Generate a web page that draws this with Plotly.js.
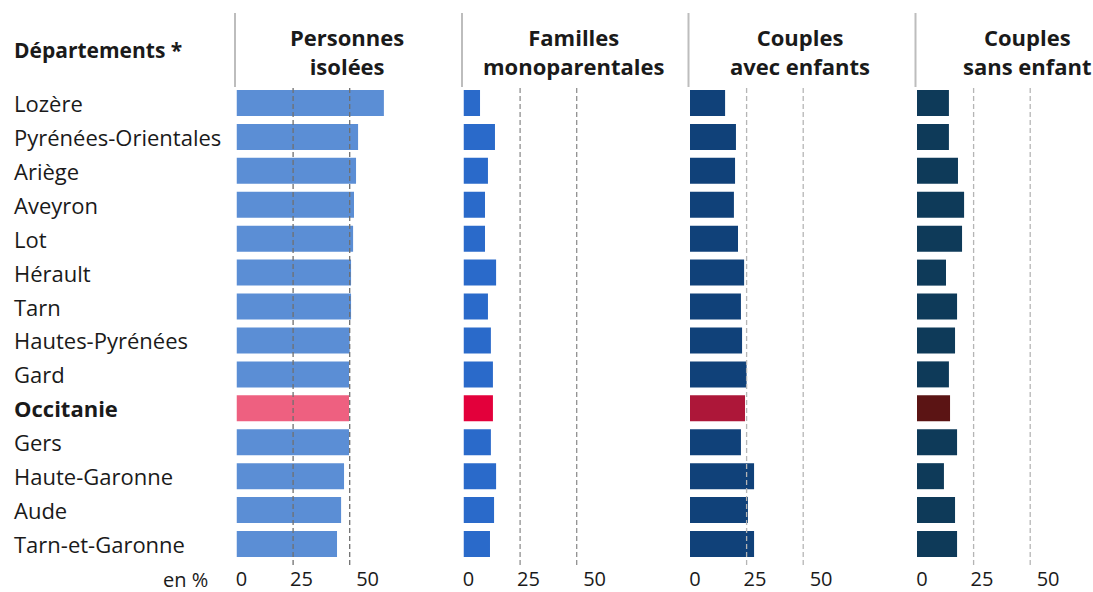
<!DOCTYPE html>
<html>
<head>
<meta charset="utf-8">
<script src="https://cdn.plot.ly/plotly-3.0.1.min.js"></script>
<style>
  body { margin: 0; background: #fff; }
  #chart { width: 1093px; height: 592px; }
</style>
</head>
<body>
<div id="chart"></div>
<script>
// départements, in the order of the chart (top to bottom)
const departements = ['Lozère', 'Pyrénées-Orientales', 'Ariège', 'Aveyron', 'Lot', 'Hérault', 'Tarn',
  'Hautes-Pyrénées', 'Gard', 'Occitanie', 'Gers', 'Haute-Garonne', 'Aude', 'Tarn-et-Garonne'];

const personnesIsolees = [65.1, 53.7, 52.8, 51.9, 51.5, 50.6, 50.6, 50.0, 49.7, 49.7, 49.7, 47.5, 46.2, 44.4];
const famillesMono = [7.3, 13.9, 10.8, 9.5, 9.5, 14.4, 10.8, 12.1, 13.0, 13.0, 12.1, 14.4, 13.5, 11.7];
const couplesAvecEnfants = [15.5, 20.3, 19.9, 19.4, 21.2, 23.9, 22.5, 23.0, 25.0, 24.3, 22.5, 28.3, 25.6, 28.3];
const couplesSansEnfant = [14.1, 14.1, 18.1, 20.8, 19.9, 12.8, 17.7, 16.8, 14.1, 14.6, 17.7, 11.9, 16.8, 17.7];

const panelTitles = ['Personnes<br>isolées', 'Familles<br>monoparentales', 'Couples<br>avec enfants', 'Couples<br>sans enfant'];
const tickText = ['0', '25', '50'];
const tickPos = [2.2, 28.7, 57.9];   // labels sit a little off the grid in the original
const gridVals = [25, 50];

const series = [personnesIsolees, famillesMono, couplesAvecEnfants, couplesSansEnfant];
const colors = ['#5b8ed5', '#2a6aca', '#104179', '#0e3a59'];
const hiColors = ['#ee6080', '#e3003b', '#ad1739', '#5b1414'];
const gridColors = ['#6f6f6f', '#8f8f8f', '#b5b5b5', '#b5b5b5'];

const W = 1093, H = 592;
const zeroPx = [236.5, 463.5, 690, 917];
const pxPerUnit = 2.264;
const xMax = 75;
const plotTop = 86, plotBottom = 561;

const font = 'Open Sans, Noto Sans, sans-serif';
const txt = '#1a1a1a';
const py = px => 1 - px / H;   // pixel row -> paper y

const traces = [];
const layout = {
  width: W, height: H,
  margin: { l: 0, r: 0, t: 0, b: 0 },
  paper_bgcolor: '#fff', plot_bgcolor: '#fff',
  showlegend: false,
  bargap: 0.233,
  font: { family: font, size: 20, color: txt },
  annotations: [],
  shapes: []
};

series.forEach((vals, i) => {
  const n = i + 1;
  const xa = n === 1 ? 'x' : 'x' + n;
  const ya = n === 1 ? 'y' : 'y' + n;
  traces.push({
    type: 'bar', orientation: 'h',
    x: vals, y: departements,
    xaxis: xa, yaxis: ya,
    marker: { color: departements.map(d => d === 'Occitanie' ? hiColors[i] : colors[i]) },
    hoverinfo: 'skip'
  });
  const d0 = zeroPx[i] / W;
  layout['xaxis' + (n === 1 ? '' : n)] = {
    domain: [d0, d0 + xMax * pxPerUnit / W],
    range: [0, xMax],
    anchor: ya,
    showgrid: false, zeroline: false, showline: false, ticks: '',
    tickmode: 'array', tickvals: tickPos, ticktext: tickText,
    tickfont: { size: 20, color: txt },
    ticklabelstandoff: 4,
    fixedrange: true
  };
  layout['yaxis' + (n === 1 ? '' : n)] = {
    anchor: xa,
    domain: [py(plotBottom), py(plotTop)],
    type: 'category',
    autorange: 'reversed',
    showticklabels: false, showgrid: false, zeroline: false, showline: false, ticks: '',
    fixedrange: true
  };
  // dashed reference lines at 25 and 50, drawn over the bars
  gridVals.forEach(g => {
    layout.shapes.push({
      type: 'line', xref: xa, yref: 'paper', layer: 'above',
      x0: g, x1: g, y0: py(565), y1: py(87),
      line: { color: gridColors[i], width: 1.3, dash: '5px,3px' }
    });
  });
  // separator above each panel
  const sx = (zeroPx[i] - 1.5) / W;
  layout.shapes.push({
    type: 'line', xref: 'paper', yref: 'paper',
    x0: sx, x1: sx, y0: py(87), y1: py(13),
    line: { color: '#bdbdbd', width: 2 }
  });
  layout.annotations.push({
    xref: xa, yref: 'paper', x: 48.6, y: py(52),
    xanchor: 'center', yanchor: 'middle',
    text: '<b>' + panelTitles[i] + '</b>', showarrow: false,
    font: { size: 22, color: txt }
  });
});

departements.forEach(d => {
  layout.annotations.push({
    xref: 'paper', yref: 'y', x: 12 / W, y: d,
    xanchor: 'left', yanchor: 'middle', showarrow: false,
    text: d === 'Occitanie' ? '<b>' + d + '</b>' : d,
    font: { size: 22, color: txt }
  });
});

layout.annotations.push({
  xref: 'paper', yref: 'paper', x: 12 / W, y: py(50),
  xanchor: 'left', yanchor: 'middle', showarrow: false,
  text: '<b>Départements *</b>', font: { size: 21, color: txt }
});
layout.annotations.push({
  xref: 'paper', yref: 'paper', x: 210 / W, y: py(579),
  xanchor: 'right', yanchor: 'middle', showarrow: false,
  text: 'en %', font: { size: 20, color: txt }
});

Plotly.newPlot('chart', traces, layout, { displayModeBar: false, staticPlot: true });
</script>
</body>
</html>
